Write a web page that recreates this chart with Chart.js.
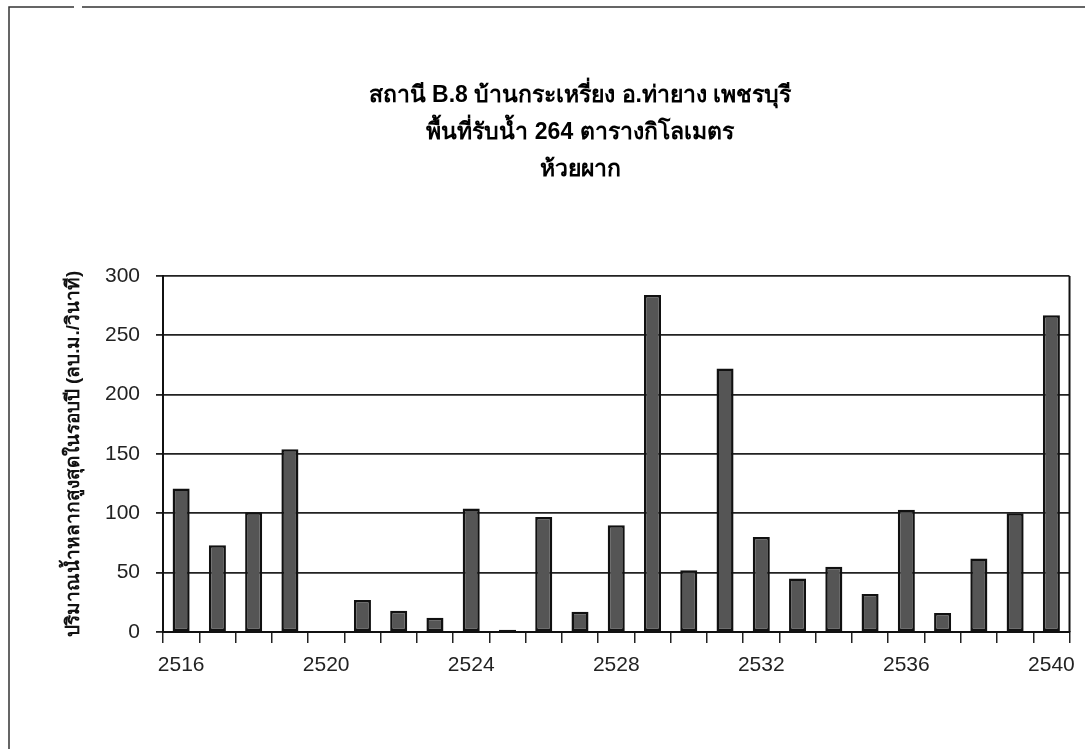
<!DOCTYPE html>
<html>
<head>
<meta charset="utf-8">
<script src="https://cdn.jsdelivr.net/npm/chart.js@4.4.0/dist/chart.umd.min.js"></script>
<style>
  html, body { margin: 0; padding: 0; background: #fff; }
  #wrap { width: 1085px; height: 749px; position: relative; }
</style>
</head>
<body>
<div id="wrap"><canvas id="chart"></canvas></div>
<script>
'use strict';

const years = [
	'2516', '2517', '2518', '2519', '2520', '2521', '2522', '2523', '2524',
	'2525', '2526', '2527', '2528', '2529', '2530', '2531', '2532', '2533',
	'2534', '2535', '2536', '2537', '2538', '2539', '2540'
];
const peakFlow = [
	121, 73, 101, 154, 0, 27, 18, 12, 104,
	2, 97, 17, 90, 284, 52, 222, 80, 45,
	55, 32, 103, 16, 62, 100, 267
];
const titleLines = [
	'สถานี B.8 บ้านกระเหรี่ยง อ.ท่ายาง เพชรบุรี',
	'พื้นที่รับน้ำ 264 ตารางกิโลเมตร',
	'ห้วยผาก'
];
const yTitle = 'ปริมาณน้ำหลากสูงสุดในรอบปี (ลบ.ม./วินาที)';

const FONT = '"Liberation Sans", Arial, "Noto Sans", sans-serif';

// frame, plot border and the three title lines
const decor = {
	id: 'decor',
	beforeDraw: function ( chart ) {
		const ctx = chart.ctx;
		ctx.save();
		ctx.strokeStyle = '#333';
		ctx.lineWidth = 1.5;
		ctx.beginPath();
		ctx.moveTo( 9, chart.height );
		ctx.lineTo( 9, 7 );
		ctx.lineTo( 74, 7 );
		ctx.moveTo( 82, 7 );
		ctx.lineTo( chart.width, 7 );
		ctx.stroke();
		ctx.restore();
	},
	afterDraw: function ( chart ) {
		const ctx = chart.ctx;
		const area = chart.chartArea;
		ctx.save();
		ctx.strokeStyle = '#111';
		ctx.lineWidth = 2;
		ctx.beginPath();
		ctx.moveTo( area.right, area.top );
		ctx.lineTo( area.right, area.bottom );
		ctx.stroke();

		ctx.fillStyle = '#000';
		ctx.textAlign = 'center';
		ctx.textBaseline = 'middle';
		ctx.font = 'bold 23px ' + FONT;
		titleLines.forEach( ( line, i ) => {
			ctx.fillText( line, 580, 96 + i * 37 );
		} );
		ctx.restore();
	}
};

const ctx = document.getElementById( 'chart' );

new Chart( ctx, {
	type: 'bar',
	data: {
		labels: years,
		datasets: [ {
			data: peakFlow,
			backgroundColor: '#555',
			borderColor: '#111',
			borderWidth: 2.5,
			borderSkipped: false,
			categoryPercentage: 1,
			barPercentage: 0.47
		} ]
	},
	options: {
		responsive: true,
		maintainAspectRatio: false,
		animation: false,
		layout: { padding: { top: 276, right: 13, left: 0, bottom: 0 } },
		plugins: {
			legend: { display: false },
			tooltip: { enabled: false },
			title: { display: false }
		},
		scales: {
			x: {
				grid: {
					offset: true,
					drawOnChartArea: false,
					tickLength: 11,
					color: '#222',
					lineWidth: 1.5
				},
				border: { color: '#111', width: 2 },
				ticks: {
					autoSkip: false,
					maxRotation: 0,
					padding: 10,
					color: '#222',
					font: { family: FONT, size: 21 },
					callback: function ( value, index ) {
						return index % 4 === 0 ? years[ index ] : '';
					}
				},
				afterFit: function ( scale ) {
					scale.height = 117;
				}
			},
			y: {
				min: 0,
				max: 300,
				grid: {
					color: '#222',
					lineWidth: 1.8,
					tickLength: 7
				},
				border: { color: '#111', width: 2 },
				ticks: {
					stepSize: 50,
					padding: 16,
					color: '#222',
					font: { family: FONT, size: 21 }
				},
				title: {
					display: true,
					text: yTitle,
					color: '#111',
					font: { family: FONT, size: 19, weight: 'bold' },
					padding: { top: 62, bottom: 0 }
				},
				afterFit: function ( scale ) {
					scale.width = 163;
				}
			}
		}
	},
	plugins: [ decor ]
} );
</script>
</body>
</html>
